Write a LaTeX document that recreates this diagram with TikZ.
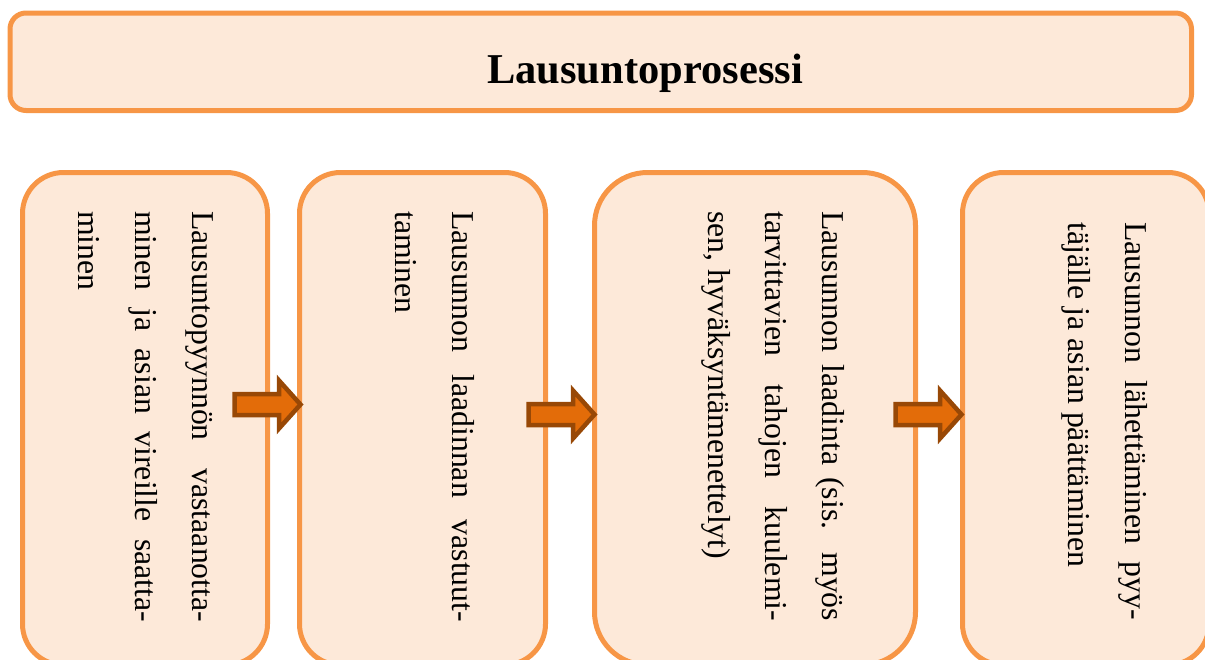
\documentclass[tikz,border=0pt]{standalone}
\usepackage{fontspec}
\setmainfont{Liberation Serif}
\definecolor{boxfill}{RGB}{253,233,217}
\definecolor{boxline}{RGB}{247,150,70}
\definecolor{arrowfill}{RGB}{227,108,9}
\definecolor{arrowline}{RGB}{152,72,6}
% one justified line of given width, interword glue stretched
\newcommand{\spreadline}[1]{\makebox[\linewidth][s]{#1}}
% a vertical text column: first baseline is the node's baseline
\newcommand{\stepcolumn}[2]{\parbox[t]{#1}{\fontsize{31.8}{57}\selectfont\raggedright #2}}
\begin{document}
\begin{tikzpicture}[x=1pt,y=-1pt,
  stepbox/.style={draw=boxline, fill=boxfill, line width=5pt, inner sep=0pt},
  titletext/.style={inner sep=0pt, font=\fontsize{42.5}{50}\selectfont\bfseries},
  steptext/.style={inner sep=0pt, anchor=base west, rotate=-90},
  pics/blockarrow/.style={code={
    \draw[draw=arrowline, fill=arrowfill, line width=4.5pt, line join=miter]
      (0,-10.5) -- (44.5,-10.5) -- (44.5,-24) -- (66,0) -- (44.5,24)
      -- (44.5,10.5) -- (0,10.5) -- cycle;}}]
\useasboundingbox (0,0) rectangle (1205,659);
\clip (0,0) rectangle (1205,659);

% heading
\node[stepbox, rounded corners=16pt, minimum width=1181.5pt, minimum height=97.5pt]
  (head) at (600.75,61.75) {};
\node[titletext, anchor=base west] (headtext) at (487,83.5) {Lausuntoprosessi};

% process steps
\node[stepbox, rounded corners=41pt, minimum width=245pt, minimum height=492.5pt]
  (s1) at (145,418.75) {};
\node[stepbox, rounded corners=41pt, minimum width=246pt, minimum height=492.5pt]
  (s2) at (422.5,418.75) {};
\node[stepbox, rounded corners=53pt, minimum width=321pt, minimum height=492.5pt]
  (s3) at (755,418.75) {};
\node[stepbox, rounded corners=41pt, minimum width=246.5pt, minimum height=492.5pt]
  (s4) at (1085.75,418.75) {};

\node[steptext] (t1) at (192,211) {\stepcolumn{411pt}{%
  \spreadline{Lausuntopyynnön vastaanotta-}\\
  \spreadline{minen ja asian vireille saatta-}\\
  minen}};
\node[steptext] (t2) at (452,211) {\stepcolumn{411pt}{%
  \spreadline{Lausunnon laadinnan vastuut-}\\
  taminen}};
\node[steptext] (t3) at (822,211) {\stepcolumn{410pt}{%
  \spreadline{Lausunnon laadinta (sis. myös}\\
  \spreadline{tarvittavien tahojen kuulemi-}\\
  sen, hyväksyntämenettelyt)}};
\node[steptext] (t4) at (1125,222) {\stepcolumn{398pt}{%
  \spreadline{Lausunnon lähettäminen pyy-}\\
  täjälle ja asian päättäminen}};

% block arrows between the steps
\pic (a1) at (234.5,404.5) {blockarrow};
\pic (a2) at (528.5,414.5) {blockarrow};
\pic (a3) at (895.5,414.5) {blockarrow};
\end{tikzpicture}
\end{document}
